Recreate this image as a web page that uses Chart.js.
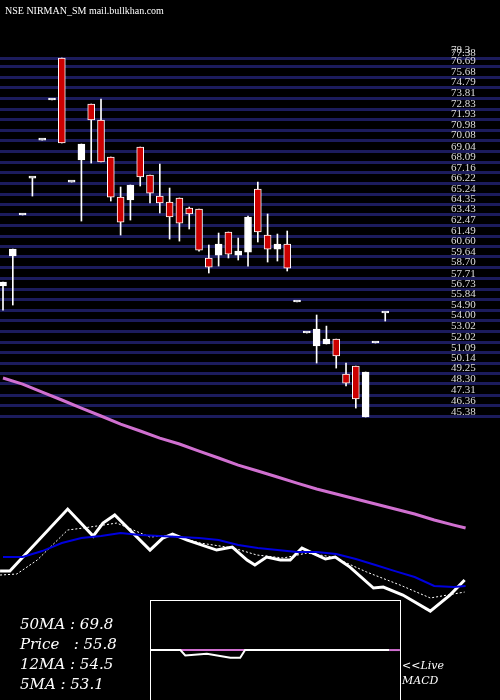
<!DOCTYPE html>
<html>
<head>
<meta charset="utf-8">
<script src="https://cdn.jsdelivr.net/npm/chart.js@4"></script>
<style>
  html, body { margin: 0; padding: 0; background: #000; }
  #wrap { width: 500px; height: 700px; position: relative; }
</style>
</head>
<body>
<div id="wrap"><canvas id="chart" width="500" height="700"></canvas></div>
<script>
// candles: open, high, low, close (index = position in list)
const opens  = [57.05,59.73,63.39,66.69,70.08,73.66,77.41,66.33,68.30,73.30,71.87,68.57,64.99,64.73,69.46,66.96,65.08,64.55,64.91,64.01,63.92,59.55,59.81,61.87,59.81,60.08,65.71,61.60,60.35,60.80,55.62,52.85,51.69,51.87,52.31,49.19,49.90,45.35,51.96,54.64];
const highs  = [57.40,60.35,63.39,66.69,70.08,73.66,77.41,66.33,69.73,73.30,73.75,68.57,65.89,66.07,69.46,66.96,67.94,65.80,64.91,64.10,63.92,60.71,61.78,61.87,61.33,63.30,66.33,63.48,61.69,61.96,55.62,52.85,54.46,53.47,52.31,50.17,49.90,49.37,51.96,54.64];
const lows   = [54.90,55.35,63.39,65.08,70.08,73.66,69.82,66.33,62.85,68.03,68.12,64.64,61.60,62.94,65.98,64.46,63.57,61.24,61.06,62.14,60.17,58.21,58.83,59.55,59.37,58.83,60.98,59.19,59.28,58.39,55.62,52.85,50.17,51.87,49.72,48.12,46.15,45.35,51.96,53.92];
const closes = [57.40,60.35,63.39,66.69,70.08,73.66,69.82,66.33,69.73,71.87,68.12,64.99,62.76,66.07,66.78,65.35,64.46,63.21,62.67,63.48,60.26,58.74,60.80,59.90,60.17,63.21,61.87,60.35,60.80,58.65,55.62,52.85,53.21,52.31,50.80,48.38,46.96,49.37,51.96,54.64];

// moving averages (same price scale, drawn in lower band)
const ma50X = [0,2,4,6,8,10,12,14,16,18,20,22,24,26,28,30,32,34,36,38,40,42,44,46,47.2];
const ma50  = [48.83,48.29,47.58,46.87,46.15,45.44,44.72,44.10,43.47,42.94,42.31,41.69,41.06,40.53,39.99,39.45,38.92,38.47,38.03,37.58,37.13,36.69,36.15,35.70,35.44];
const ma12  = [32.85,32.85,33.38,34.10,34.54,34.72,34.99,34.81,34.72,34.63,34.54,34.36,33.92,33.65,33.47,33.29,33.29,33.11,32.67,32.13,31.59,31.06,30.26,30.17,30.26];
const priceX = [-0.3,0.7,6.6,9.2,10.2,11.4,15,16.3,17.3,18.8,21.8,23.4,24.9,25.7,26.9,28.3,29.3,30.5,32.9,33.9,35.4,37.8,38.8,40.8,43.6,45.6,47.1];
const priceLine = [31.60,31.60,37.13,34.72,35.88,36.60,33.47,34.54,34.90,34.36,33.47,33.74,32.58,32.13,32.85,32.58,32.58,33.65,32.67,32.85,31.95,30.08,30.17,29.45,28.02,29.45,30.79];
const ma5X = [-0.3,1.4,3.5,6.6,8.2,11.6,13.3,15,17.3,20.1,23.5,25.9,28.6,31,33.7,37.1,40.5,43.6,47.1];
const ma5  = [31.24,31.33,32.58,35.26,35.44,35.88,35.26,34.63,34.81,34.10,33.65,33.03,32.76,33.20,32.85,31.51,30.35,29.19,29.72];

// MACD strip
const macdX = [15,18.1,18.6,20.8,23.2,24.2,24.7,39.4];
const macd  = [24.54,24.54,24.06,24.20,23.85,23.85,24.54,24.54];
const signalX = [18.1,24.7];
const signal  = [24.54,24.54];
const signalTailX = [39.4,40.5];

// price levels (grid lines) and labels
const levels = [78.3,77.38,76.69,75.68,74.79,73.81,72.83,71.93,70.98,70.08,69.04,68.09,67.16,66.22,65.24,64.35,63.43,62.47,61.49,60.60,59.64,58.70,57.71,56.73,55.84,54.90,54.00,53.02,52.02,51.09,50.14,49.25,48.30,47.31,46.36,45.38];
const legendLines = ['50MA : 69.8', 'Price   : 55.8', '12MA : 54.5', '5MA : 53.1'];

const RED = '#cc0000';
const idx = opens.map((_, i) => i);
const pts = (xs, ys) => xs.map((x, i) => ({ x: x, y: ys[i] }));

const decor = {
    id: 'decor',
    afterDraw(chart) {
        const ctx = chart.ctx;
        const y = chart.scales.y;
        ctx.save();
        ctx.fillStyle = '#fff';
        ctx.font = '10px "Liberation Serif", serif';
        ctx.textBaseline = 'top';
        ctx.fillText('NSE NIRMAN_SM mail.bullkhan.com', 5, 6);
        // level labels
        ctx.fillStyle = '#ddd';
        ctx.font = '11px "Liberation Serif", serif';
        ctx.textBaseline = 'middle';
        ctx.textAlign = 'left';
        levels.forEach((v, i) => {
            ctx.fillText(v.toFixed(i === 0 ? 1 : 2), 451, y.getPixelForValue(v) + (i === 0 ? 2 : -5));
        });
        ctx.fillStyle = '#fff';
        ctx.font = 'italic 15px "DejaVu Serif", serif';
        legendLines.forEach((t, i) => ctx.fillText(t, 20, 625 + i * 20));
        ctx.font = 'italic 11px "DejaVu Serif", serif';
        ctx.fillText('<<Live', 402, 666);
        ctx.fillText('MACD', 402, 681);
        ctx.strokeStyle = '#fff';
        ctx.lineWidth = 1;
        ctx.strokeRect(150.5, 600.5, 250, 110);
        ctx.restore();
    }
};

new Chart(document.getElementById('chart'), {
    type: 'bar',
    data: {
        datasets: [
            {
                label: 'body',
                data: idx.map(i => ({ x: i, y: [opens[i], closes[i]] })),
                backgroundColor: idx.map(i => closes[i] < opens[i] ? RED : '#fff'),
                borderColor: '#fff',
                borderWidth: 1,
                borderSkipped: false,
                barThickness: 7,
                minBarLength: 2,
                grouped: false,
                order: 1
            },
            {
                label: 'wick',
                data: idx.map(i => ({ x: i, y: [lows[i], highs[i]] })),
                backgroundColor: '#fff',
                barThickness: 1,
                grouped: false,
                order: 2
            },
            { type: 'line', data: pts(ma50X, ma50), borderColor: '#d070d0', borderWidth: 3, pointRadius: 0, order: 0 },
            { type: 'line', data: pts(ma50X, ma12), borderColor: '#0000dd', borderWidth: 2, pointRadius: 0, order: 0 },
            { type: 'line', data: pts(ma5X, ma5), borderColor: '#fff', borderWidth: 1, borderDash: [2, 2], pointRadius: 0, order: 0 },
            { type: 'line', data: pts(priceX, priceLine), borderColor: '#fff', borderWidth: 3, pointRadius: 0, order: 0 },
            { type: 'line', data: pts(macdX, macd), borderColor: '#fff', borderWidth: 2, pointRadius: 0, order: 0 },
            { type: 'line', data: pts(signalX, signal), borderColor: '#d070d0', borderWidth: 2, pointRadius: 0, order: 0 },
            { type: 'line', data: pts(signalTailX, signal), borderColor: '#d070d0', borderWidth: 2, pointRadius: 0, order: 0 }
        ]
    },
    options: {
        responsive: false,
        animation: false,
        layout: { padding: 0, autoPadding: false },
        plugins: { legend: { display: false }, tooltip: { enabled: false } },
        scales: {
            x: {
                type: 'linear',
                offset: false,
                min: -0.306,
                max: 50.71,
                display: false
            },
            y: {
                type: 'linear',
                position: 'right',
                min: 20.08,
                max: 82.59,
                border: { display: false },
                afterBuildTicks: axis => { axis.ticks = levels.map(v => ({ value: v })); },
                afterFit: axis => { axis.width = 0; },
                grid: {
                    color: ctx => ctx.index === 0 ? 'rgba(0,0,0,0)' : '#1c1c5c',
                    lineWidth: 3,
                    drawTicks: false
                },
                ticks: { display: false, autoSkip: false }
            }
        }
    },
    plugins: [decor]
});
</script>
</body>
</html>
